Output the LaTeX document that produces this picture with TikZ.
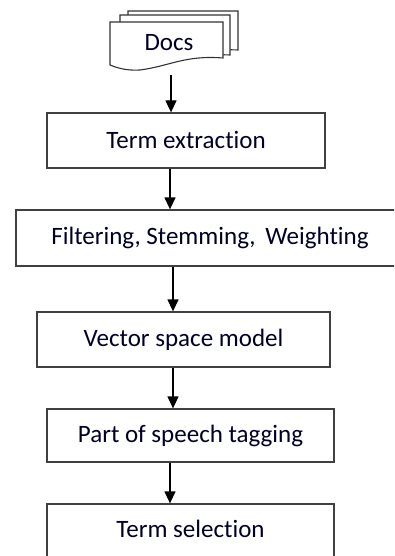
\documentclass[tikz,border=0pt]{standalone}
\usepackage{fontspec}
\setmainfont[Ligatures={NoCommon}]{Carlito}
\usetikzlibrary{arrows.meta}
\begin{document}
\begin{tikzpicture}[x=1pt,y=-1pt,
  stepbox/.style={draw=black!75,line width=1.3pt,fill=white,inner sep=0pt},
  lbl/.style={font=\fontsize{25}{28}\selectfont,text=black!85!blue},
  arr/.style={line width=1.3pt,-{Triangle[length=12pt,width=11pt]}},
  doc/.style={draw=black!80,line width=1.1pt,fill=white}]
\useasboundingbox (0,0) rectangle (394,556);
\clip (0,0) rectangle (394,556);
% document stack
\draw[doc] (128,11) -- (238,11) -- (238,50) .. controls (220,49) and (215,52) .. (215,52) -- (128,52) -- cycle;
\draw[doc] (120,15) -- (230,15) -- (230,55) .. controls (215,54) and (200,57) .. (200,57) -- (120,57) -- cycle;
\draw[doc] (110,22) -- (223,22) -- (223,58) .. controls (185,55) and (170,66) .. (140,70) .. controls (125,71) and (115,67) .. (110,65) -- cycle;
\node[lbl,inner sep=0pt] (docs) at (169,43) {Docs};
\coordinate (docsb) at (171,75);
% boxes
\node[stepbox,minimum width=278pt,minimum height=55pt] (term) at (186,140.5) {};
\node[lbl] at ([yshift=1pt]term.center) {Term extraction};
\node[stepbox,minimum width=388pt,minimum height=56pt] (filt) at (210,238) {};
\node[lbl] at (filt.center) {Filtering, Stemming,\, Weighting};
\node[stepbox,minimum width=293pt,minimum height=55pt] (vsm) at (183.5,339.5) {};
\node[lbl] at (vsm.center) {Vector space model};
\node[stepbox,minimum width=287pt,minimum height=53pt] (pos) at (190.5,435.5) {};
\node[lbl] at (pos.center) {Part of speech tagging};
\node[stepbox,minimum width=287pt,minimum height=60pt] (sel) at (190.5,534) {};
\node[lbl] at ([yshift=5pt]sel.center) {Term selection};
% arrows
\draw[arr] (docsb) -- (term.north -| docsb);
\draw[arr] (term.south -| 170,0) -- (filt.north -| 170,0);
\draw[arr] (filt.south -| 173,0) -- (vsm.north -| 173,0);
\draw[arr] (vsm.south -| 173,0) -- (pos.north -| 173,0);
\draw[arr] (pos.south -| 170,0) -- (sel.north -| 170,0);
\end{tikzpicture}
\end{document}
